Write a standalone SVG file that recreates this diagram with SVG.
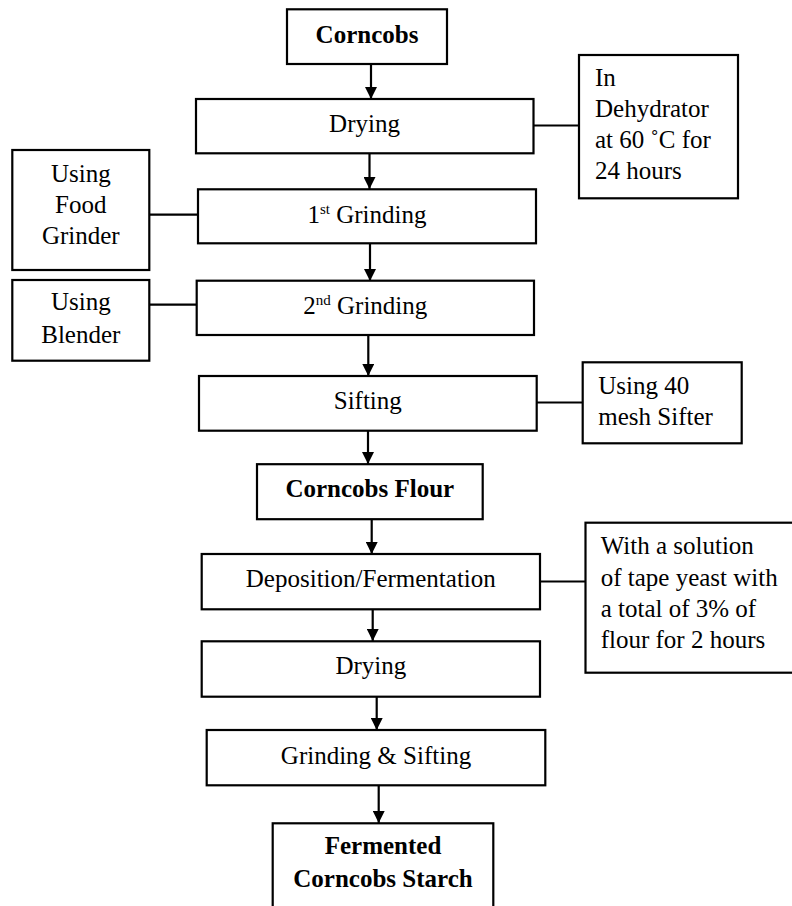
<svg xmlns="http://www.w3.org/2000/svg" width="792" height="906" viewBox="0 0 792 906">
<style>
  .box { fill: #ffffff; stroke: #000000; stroke-width: 2.2; }
  .t { font-family: "Liberation Serif", "Times New Roman", serif; font-size: 25px; fill: #000000; }
  .c { text-anchor: middle; }
  .b { font-weight: bold; }
  .conn line { stroke: #000000; stroke-width: 2.2; }
  .arr { marker-end: url(#ah); }
</style>
<defs>
  <marker id="ah" markerUnits="userSpaceOnUse" markerWidth="12" markerHeight="12" refX="12" refY="6" orient="auto">
    <path d="M0,0 L12,6 L0,12 z" fill="#000000"/>
  </marker>
</defs>
<rect width="792" height="906" fill="#ffffff"/>

<g id="connectors" class="conn">
  <line class="arr" x1="371" y1="64" x2="371" y2="99"/>
  <line class="arr" x1="369.5" y1="153" x2="369.5" y2="189"/>
  <line class="arr" x1="370" y1="243" x2="370" y2="281"/>
  <line class="arr" x1="368.3" y1="335" x2="368.3" y2="376"/>
  <line class="arr" x1="368" y1="431" x2="368" y2="464"/>
  <line class="arr" x1="371.7" y1="519" x2="371.7" y2="554"/>
  <line class="arr" x1="372.7" y1="609" x2="372.7" y2="641"/>
  <line class="arr" x1="376.7" y1="697" x2="376.7" y2="730"/>
  <line class="arr" x1="378.7" y1="785" x2="378.7" y2="823"/>
  <line x1="533" y1="125.5" x2="579" y2="125.5"/>
  <line x1="149" y1="214.7" x2="198" y2="214.7"/>
  <line x1="149" y1="304.7" x2="197" y2="304.7"/>
  <line x1="537" y1="402.5" x2="583" y2="402.5"/>
  <line x1="540" y1="581.5" x2="585.5" y2="581.5"/>
</g>

<g id="corncobs">
  <rect class="box" x="287" y="9.3" width="160" height="54.7"/>
  <text class="t c b" x="367" y="43">Corncobs</text>
</g>
<g id="drying1">
  <rect class="box" x="196" y="99" width="337.5" height="54.3"/>
  <text class="t c" x="364.5" y="132">Drying</text>
</g>
<g id="dehydrator">
  <rect class="box" x="579" y="55" width="159" height="143.3"/>
  <text class="t" x="595" y="85.7">In</text>
  <text class="t" x="595" y="117.3">Dehydrator</text>
  <text class="t" x="595" y="148.3">at 60 ˚C for</text>
  <text class="t" x="595" y="179.3">24 hours</text>
</g>
<g id="foodgrinder">
  <rect class="box" x="12.3" y="150" width="137" height="120"/>
  <text class="t c" x="80.8" y="181.7">Using</text>
  <text class="t c" x="80.8" y="212.7">Food</text>
  <text class="t c" x="80.8" y="244">Grinder</text>
</g>
<g id="grinding1">
  <rect class="box" x="198" y="189.3" width="338" height="54"/>
  <text class="t c" x="367" y="222.5">1<tspan font-size="15" dy="-9">st</tspan><tspan dy="9"> Grinding</tspan></text>
</g>
<g id="blender">
  <rect class="box" x="12.3" y="280" width="137" height="80.7"/>
  <text class="t c" x="80.8" y="310">Using</text>
  <text class="t c" x="80.8" y="343.3">Blender</text>
</g>
<g id="grinding2">
  <rect class="box" x="196.7" y="280.7" width="337.3" height="54.3"/>
  <text class="t c" x="365.3" y="314">2<tspan font-size="15" dy="-9">nd</tspan><tspan dy="9"> Grinding</tspan></text>
</g>
<g id="sifting">
  <rect class="box" x="199" y="376" width="337.7" height="54.7"/>
  <text class="t c" x="367.8" y="409">Sifting</text>
</g>
<g id="meshsifter">
  <rect class="box" x="582.7" y="362.3" width="159" height="81"/>
  <text class="t" x="598.3" y="394">Using 40</text>
  <text class="t" x="598.3" y="425">mesh Sifter</text>
</g>
<g id="flour">
  <rect class="box" x="257" y="464.2" width="225.7" height="55"/>
  <text class="t c b" x="369.8" y="497">Corncobs Flour</text>
</g>
<g id="deposition">
  <rect class="box" x="201.7" y="554" width="338.3" height="55.3"/>
  <text class="t c" x="370.8" y="587">Deposition/Fermentation</text>
</g>
<g id="tapeyeast">
  <rect class="box" x="585.5" y="522.7" width="220" height="150"/>
  <text class="t" x="600.7" y="554">With a solution</text>
  <text class="t" x="600.7" y="586">of tape yeast with</text>
  <text class="t" x="600.7" y="616.7">a total of 3% of</text>
  <text class="t" x="600.7" y="647.7">flour for 2 hours</text>
</g>
<g id="drying2">
  <rect class="box" x="201.7" y="641.3" width="338.3" height="55.4"/>
  <text class="t c" x="370.8" y="674">Drying</text>
</g>
<g id="grindsift">
  <rect class="box" x="206.7" y="730" width="338.6" height="55.3"/>
  <text class="t c" x="376" y="763.5">Grinding &amp; Sifting</text>
</g>
<g id="fermented">
  <rect class="box" x="272.7" y="823.3" width="220.6" height="100"/>
  <text class="t c b" x="383" y="854">Fermented</text>
  <text class="t c b" x="383" y="886.7">Corncobs Starch</text>
</g>
</svg>
